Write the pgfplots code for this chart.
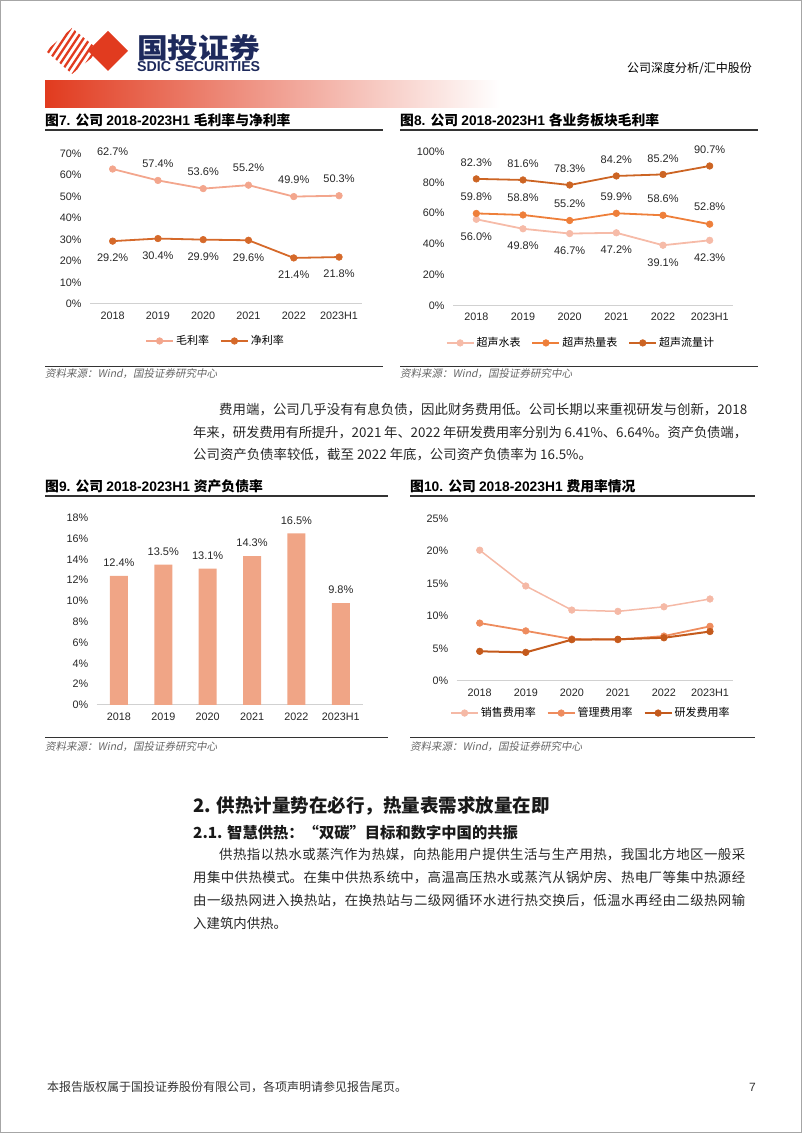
\documentclass[border=0pt]{standalone}
\usepackage{pgfplots}
\pgfplotsset{compat=1.18}
\usepackage{fontspec}
\setmainfont{Liberation Sans}
\newfontfamily\cjk{Noto Sans CJK SC}
\newfontfamily\cjkit{Noto Sans CJK SC}[FakeSlant=0.2]
\XeTeXlinebreaklocale "zh"
\XeTeXlinebreakskip=0pt plus 4pt minus 0.8pt

\definecolor{logored}{HTML}{E13B1F}
\definecolor{navy}{HTML}{1E2A5C}
\definecolor{c7a}{HTML}{F3A68D}
\definecolor{c7b}{HTML}{D5692A}
\definecolor{c8a}{HTML}{F6BBA8}
\definecolor{c8b}{HTML}{EE7F3A}
\definecolor{c8c}{HTML}{CC6423}
\definecolor{c9}{HTML}{F0A586}
\definecolor{c10a}{HTML}{F5B9A6}
\definecolor{c10b}{HTML}{EE8C5E}
\definecolor{c10c}{HTML}{C45A1C}

\newcommand\fs[1]{\fontsize{#1}{#1}\selectfont}
\newcommand\jline[2]{\parbox[b]{#1}{\parindent=0pt\parfillskip=0pt\tolerance=10000\hbadness=10000 #2\par}}
\newcommand\ctitle[2]{{\cjk\bfseries 图}{\bfseries #1. }{\cjk\bfseries 公司 }{\bfseries 2018-2023H1 }{\cjk\bfseries #2}}

\pgfplotsset{
  rpt/.style={
    scale only axis, clip=false,
    axis lines*=left,
    y axis line style={draw=none},
    x axis line style={draw=black!18, line width=1pt},
    major tick length=0pt,
    xmin=-0.5, xmax=5.5, ymin=0,
    xtick={0,...,5},
    xticklabels={2018,2019,2020,2021,2022,2023H1},
    /pgf/number format/assume math mode=true,
    yticklabel={\pgfmathprintnumber{\tick}\%},
    ticklabel style={font=\fs{10.8}, text=black!85},
    xticklabel style={yshift=-4pt},
    yticklabel style={xshift=-5pt},
    legend style={draw=none, fill=none, font=\cjk\fs{11}, legend columns=-1,
      /tikz/every even column/.append style={column sep=9pt}, anchor=center},
    legend image code/.code={\draw[mark repeat=2,mark phase=2,##1] plot coordinates {(0pt,0pt) (13.5pt,0pt) (27pt,0pt)};},
  },
  lab/.style={nodes near coords={\pgfmathprintnumber[fixed,fixed zerofill,precision=1]{\pgfplotspointmeta}\%},
    every node near coord/.append style={anchor=center, font=\fs{11}, text=black!85, yshift=#1}},
  ln/.style={color=#1, line width=1.8pt, mark=*, mark size=3.3pt, mark options={solid, line width=0.6pt, draw=#1, fill=#1}},
}

\begin{document}
\begin{tikzpicture}[x=1pt,y=1pt]
\path[use as bounding box] (0,0) rectangle (802,1133);

\begin{scope}[shift={(0,1133)}, yscale=-1]
% page border
\draw[gray!70, line width=1pt] (0.5,0.5) rectangle (801.5,1132.5);
% logo
\fill[logored] (88,51) -- (108,31) -- (128,51) -- (108,71) -- cycle;
\begin{scope}
\clip (46,51) -- (72,28) -- (100,51) -- (72,74) -- cycle;
\foreach \i in {0,...,11} \draw[logored, line width=2.3pt] (20+\i*6.5,85) -- ++(40,-60);
\end{scope}
\node[anchor=west, inner sep=0, text=navy] at (137,47.5) {\resizebox{123pt}{24pt}{\cjk\bfseries 国投证券}};
\node[anchor=west, inner sep=0, text=navy] at (137,67) {\resizebox{123pt}{10pt}{\bfseries SDIC SECURITIES}};
\node[anchor=base west, inner sep=0] at (627,72.5) {\cjk\fs{12}公司深度分析/汇中股份};
\shade[left color=logored, right color=white] (45,81) rectangle (500,108);

% titles
\node[anchor=base west, inner sep=0] at (45,126) {\fs{13.8}\ctitle{7}{毛利率与净利率}};
\node[anchor=base west, inner sep=0] at (400,126) {\fs{13.8}\ctitle{8}{各业务板块毛利率}};
\draw[black!80, line width=1.1pt] (45,130) -- (383,130);
\draw[black!80, line width=1.1pt] (400,130) -- (758,130);
\draw[black!80, line width=1pt] (45,367) -- (383,367);
\draw[black!80, line width=1pt] (400,367) -- (758,367);
\node[anchor=base west, inner sep=0, text=black!60] at (45,378) {\cjkit\fs{10.5}资料来源：Wind，国投证券研究中心};
\node[anchor=base west, inner sep=0, text=black!60] at (400,378) {\cjkit\fs{10.5}资料来源：Wind，国投证券研究中心};

% paragraph 1
\node[anchor=base west, inner sep=0, text=black!85] at (219,415) {\cjk\fs{13.4}\jline{528pt}{费用端，公司几乎没有有息负债，因此财务费用低。公司长期以来重视研发与创新，2018}};
\node[anchor=base west, inner sep=0, text=black!85] at (193,437.5) {\cjk\fs{13.4}\jline{554pt}{年来，研发费用有所提升，2021 年、2022 年研发费用率分别为 6.41\%、6.64\%。资产负债端，}};
\node[anchor=base west, inner sep=0, text=black!85] at (193,460) {\cjk\fs{13.4}公司资产负债率较低，截至 2022 年底，公司资产负债率为 16.5\%。};

% titles 9/10
\node[anchor=base west, inner sep=0] at (45,492) {\fs{13.8}\ctitle{9}{资产负债率}};
\node[anchor=base west, inner sep=0] at (410,492) {\fs{13.8}\ctitle{10}{费用率情况}};
\draw[black!80, line width=1.1pt] (45,496) -- (388,496);
\draw[black!80, line width=1.1pt] (410,496) -- (755,496);
\draw[black!80, line width=1pt] (45,738) -- (388,738);
\draw[black!80, line width=1pt] (410,738) -- (755,738);
\node[anchor=base west, inner sep=0, text=black!60] at (45,751) {\cjkit\fs{10.5}资料来源：Wind，国投证券研究中心};
\node[anchor=base west, inner sep=0, text=black!60] at (410,751) {\cjkit\fs{10.5}资料来源：Wind，国投证券研究中心};

% section headings
\node[anchor=base west, inner sep=0, text=black!90] at (193,813) {\cjk\bfseries\fs{18.5}2. 供热计量势在必行，热量表需求放量在即};
\node[anchor=base west, inner sep=0, text=black!90] at (193,839) {\cjk\bfseries\fs{15.3}2.1. 智慧供热：“双碳”目标和数字中国的共振};
\node[anchor=base west, inner sep=0, text=black!85] at (219,860) {\cjk\fs{13.4}\jline{526pt}{供热指以热水或蒸汽作为热媒，向热能用户提供生活与生产用热，我国北方地区一般采}};
\node[anchor=base west, inner sep=0, text=black!85] at (193,883) {\cjk\fs{13.4}\jline{552pt}{用集中供热模式。在集中供热系统中，高温高压热水或蒸汽从锅炉房、热电厂等集中热源经}};
\node[anchor=base west, inner sep=0, text=black!85] at (193,906) {\cjk\fs{13.4}\jline{552pt}{由一级热网进入换热站，在换热站与二级网循环水进行热交换后，低温水再经由二级热网输}};
\node[anchor=base west, inner sep=0, text=black!85] at (193,929) {\cjk\fs{13.4}入建筑内供热。};

% footer
\node[anchor=base west, inner sep=0, text=black!80] at (47,1091.5) {\cjk\fs{12}本报告版权属于国投证券股份有限公司，各项声明请参见报告尾页。};
\node[anchor=base east, inner sep=0, text=black!80] at (756,1091.5) {\fs{12}7};
\end{scope}

% Chart 7
\begin{axis}[rpt, at={(90pt,829pt)}, anchor=south west, width=271.7pt, height=150.7pt,
  ymax=70, ytick={0,10,...,70}, legend style={at={(0.462,-0.2455)}}]
\addplot[ln=c7a, lab=17pt] coordinates {(0,62.7)(1,57.4)(2,53.6)(3,55.2)(4,49.9)(5,50.3)};
\addlegendentry{毛利率}
\addplot[ln=c7b, lab=-17pt] coordinates {(0,29.2)(1,30.4)(2,29.9)(3,29.6)(4,21.4)(5,21.8)};
\addlegendentry{净利率}
\end{axis}

% Chart 8
\begin{axis}[rpt, at={(453pt,827.7pt)}, anchor=south west, width=280pt, height=153.6pt,
  ymax=100, ytick={0,20,...,100}, legend style={at={(0.457,-0.245)}}]
\addplot[ln=c8a, lab=-17pt] coordinates {(0,56.0)(1,49.8)(2,46.7)(3,47.2)(4,39.1)(5,42.3)};
\addlegendentry{超声水表}
\addplot[ln=c8b, lab=17pt] coordinates {(0,59.8)(1,58.8)(2,55.2)(3,59.9)(4,58.6)(5,52.8)};
\addlegendentry{超声热量表}
\addplot[ln=c8c, lab=16pt] coordinates {(0,82.3)(1,81.6)(2,78.3)(3,84.2)(4,85.2)(5,90.7)};
\addlegendentry{超声流量计}
\end{axis}

% Chart 9
\begin{axis}[rpt, at={(96.7pt,428pt)}, anchor=south west, width=266.3pt, height=187.3pt,
  ymax=18, ytick={0,2,...,18}]
\addplot[ybar, bar width=18pt, fill=c9, draw=none, lab=13pt] coordinates {(0,12.4)(1,13.5)(2,13.1)(3,14.3)(4,16.5)(5,9.8)};
\end{axis}

% Chart 10
\begin{axis}[rpt, at={(456.7pt,452pt)}, anchor=south west, width=276.3pt, height=162.7pt,
  ymax=25, ytick={0,5,...,25}, legend style={at={(0.486,-0.197)}}]
\addplot[ln=c10a, line width=1.5pt] coordinates {(0,20.1)(1,14.6)(2,10.9)(3,10.7)(4,11.4)(5,12.6)};
\addlegendentry{销售费用率}
\addplot[ln=c10b] coordinates {(0,8.9)(1,7.7)(2,6.45)(3,6.35)(4,6.9)(5,8.4)};
\addlegendentry{管理费用率}
\addplot[ln=c10c, line width=2pt] coordinates {(0,4.56)(1,4.4)(2,6.35)(3,6.41)(4,6.64)(5,7.6)};
\addlegendentry{研发费用率}
\end{axis}
\end{tikzpicture}
\end{document}
